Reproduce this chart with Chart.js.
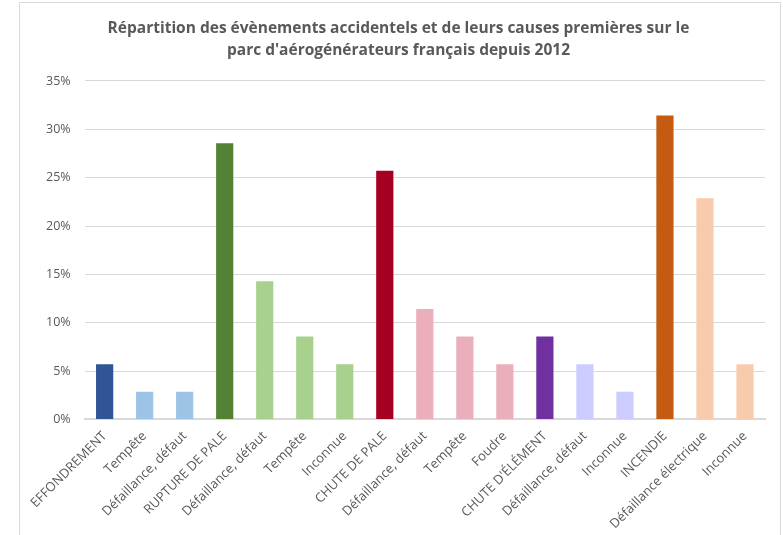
<!DOCTYPE html>
<html lang="fr">
<head>
    <meta charset="UTF-8">
    <title>Répartition des évènements accidentels</title>
    <script src="https://cdn.jsdelivr.net/npm/chart.js@4"></script>
    <style>
        html, body { margin: 0; padding: 0; background: #fff; }
        #frame {
            position: absolute; left: 19px; top: 2px; width: 762px; height: 560px;
            border: 1px solid #d9d9d9; box-sizing: border-box;
        }
        #wrap { position: absolute; left: 0; top: 0; width: 783px; height: 535px; }
    </style>
</head>
<body>
    <div id="frame"></div>
    <div id="wrap"><canvas id="chart"></canvas></div>

    <script>
        const categories = [
            'EFFONDREMENT', 'Tempête', 'Défaillance, défaut',
            'RUPTURE DE PALE', 'Défaillance, défaut', 'Tempête', 'Inconnue',
            'CHUTE DE PALE', 'Défaillance, défaut', 'Tempête', 'Foudre',
            "CHUTE D'ÉLÉMENT", 'Défaillance, défaut', 'Inconnue',
            'INCENDIE', 'Défaillance électrique', 'Inconnue'
        ];
        // share of events, in %
        const shares = [
            5.71, 2.86, 2.86,
            28.57, 14.29, 8.57, 5.71,
            25.71, 11.43, 8.57, 5.71,
            8.57, 5.71, 2.86,
            31.43, 22.86, 5.71
        ];
        const barColors = [
            '#2f5597', '#9dc3e6', '#9dc3e6',
            '#548235', '#a9d18e', '#a9d18e', '#a9d18e',
            '#a50021', '#ebafbb', '#ebafbb', '#ebafbb',
            '#7030a0', '#ccccff', '#ccccff',
            '#c55a11', '#f8cbad', '#f8cbad'
        ];
        const titleLines = [
            'Répartition des évènements accidentels et de leurs causes premières sur le',
            "parc d'aérogénérateurs français depuis 2012"
        ];

        const FONT = "'Open Sans', sans-serif";
        const GREY = '#595959';

        new Chart(document.getElementById('chart'), {
            type: 'bar',
            data: {
                labels: categories,
                datasets: [{
                    data: shares,
                    backgroundColor: barColors,
                    borderWidth: 0,
                    categoryPercentage: 1,
                    barPercentage: 0.43
                }]
            },
            options: {
                responsive: true,
                maintainAspectRatio: false,
                animation: false,
                layout: { padding: { left: 32, right: 18, top: 8, bottom: 2 } },
                plugins: {
                    legend: { display: false },
                    tooltip: { enabled: false },
                    title: {
                        display: true,
                        text: titleLines,
                        color: GREY,
                        font: { family: FONT, size: 15.5, weight: 'bold', lineHeight: 1.45 },
                        padding: { top: 9, bottom: 19 }
                    }
                },
                scales: {
                    x: {
                        grid: { display: false },
                        border: { color: '#d9d9d9', width: 2 },
                        ticks: {
                            color: GREY,
                            font: { family: FONT, size: 13 },
                            maxRotation: 45,
                            minRotation: 45,
                            autoSkip: false,
                            padding: 1
                        }
                    },
                    y: {
                        min: 0,
                        max: 35,
                        grid: { color: '#d9d9d9', lineWidth: 1, drawTicks: false },
                        border: { display: false },
                        ticks: {
                            stepSize: 5,
                            color: GREY,
                            font: { family: FONT, size: 12.5 },
                            padding: 14,
                            callback: v => v + '%'
                        }
                    }
                }
            }
        });
    </script>
</body>
</html>
